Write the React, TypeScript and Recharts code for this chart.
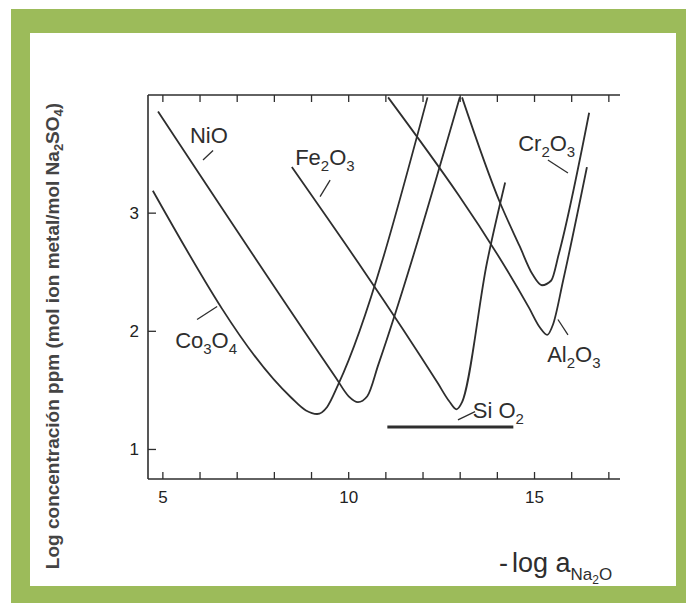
import React from "react"
import { LineChart, Line, XAxis, YAxis, ReferenceLine, ReferenceDot } from "recharts"

// curve points: [-log aNa2O, log concentration]
const CO3O4 = [[4.73, 3.19], [8.45, 1.44], [8.85, 1.33], [9.15, 1.3], [9.42, 1.36], [9.72, 1.55], [12.12, 3.98]]
const NIO = [[4.87, 3.86], [9.65, 1.61], [10.0, 1.45], [10.25, 1.4], [10.5, 1.45], [10.8, 1.72], [12.99, 3.98]]
const FE2O3 = [[8.47, 3.39], [12.4, 1.56], [12.7, 1.41], [12.9, 1.34], [13.05, 1.4], [13.72, 2.58], [14.21, 3.26]]
const CR2O3 = [[13.05, 3.98], [14.07, 3.09], [14.6, 2.72], [14.95, 2.48], [15.2, 2.39], [15.45, 2.43], [15.65, 2.65], [16.47, 3.85]]
const AL2O3 = [[11.06, 3.98], [14.85, 2.2], [15.15, 2.03], [15.34, 1.97], [15.5, 2.06], [15.77, 2.43], [16.41, 3.39]]
const SIO2 = [[11.04, 1.19], [14.43, 1.19]]

const X_TICKS = [5, 6, 7, 8, 9, 10, 11, 12, 13, 14, 15, 16, 17]
const X_LABELED = [5, 10, 15]
const Y_TICKS = [1, 2, 3]

// curve labels: chemical formula pieces (true = subscript), anchor and leader line in data units
const LABELS = [
  { parts: [["NiO", false]], at: [5.73, 3.59], leader: [[6.08, 3.45], [6.35, 3.53]] },
  { parts: [["Fe", false], ["2", true], ["O", false], ["3", true]], at: [8.56, 3.41], leader: [[9.23, 3.14], [9.5, 3.28]] },
  { parts: [["Cr", false], ["2", true], ["O", false], ["3", true]], at: [14.56, 3.53], leader: [[15.36, 3.45], [15.9, 3.34]] },
  { parts: [["Co", false], ["3", true], ["O", false], ["4", true]], at: [5.33, 1.86], leader: [[5.92, 2.1], [6.46, 2.21]] },
  { parts: [["Al", false], ["2", true], ["O", false], ["3", true]], at: [15.34, 1.74], leader: [[15.63, 2.1], [15.9, 1.97]] },
  { parts: [["Si O", false], ["2", true]], at: [13.34, 1.27], leader: [[12.94, 1.25], [13.4, 1.32]] },
] as const

const INK = "#2e2e2e"
const FONT = "'Liberation Sans', Arial, sans-serif"

const toPts = (arr: readonly (readonly number[])[]) => arr.map(([x, y]) => ({ x, y }))

function Formula({ viewBox, parts }: any) {
  const { x, y } = viewBox
  let low = false
  return (
    <text x={x} y={y} fontFamily={FONT} fontSize={22} fill={INK}>
      {parts.map(([t, sub]: [string, boolean], i: number) => {
        const dy = sub && !low ? 6 : !sub && low ? -6 : 0
        low = sub
        return (
          <tspan key={i} dy={dy} fontSize={sub ? 15 : 22}>
            {t}
          </tspan>
        )
      })}
    </text>
  )
}

function BottomTick({ x, y, payload }: any) {
  return (
    <g>
      <line x1={x} y1={y} x2={x} y2={y - 7} stroke={INK} strokeWidth={1.3} />
      {X_LABELED.includes(payload.value) && (
        <text x={x} y={y + 24} textAnchor="middle" fontFamily={FONT} fontSize={17} fill="#222">
          {payload.value}
        </text>
      )}
    </g>
  )
}

function TopTick({ x, y }: any) {
  return <line x1={x} y1={y} x2={x} y2={y + 7} stroke={INK} strokeWidth={1.3} />
}

function LeftTick({ x, y, payload }: any) {
  return (
    <g>
      <line x1={x} y1={y} x2={x + 8} y2={y} stroke={INK} strokeWidth={1.3} />
      <text x={x - 9} y={y + 6} textAnchor="end" fontFamily={FONT} fontSize={17} fill="#222">
        {payload.value}
      </text>
    </g>
  )
}

const curve = (data: readonly (readonly number[])[], key: string, w = 1.8) => (
  <Line
    key={key}
    data={toPts(data)}
    dataKey="y"
    type="monotone"
    stroke={INK}
    strokeWidth={w}
    dot={false}
    isAnimationActive={false}
  />
)

export default function App() {
  return (
    <div style={{ position: "absolute", left: 0, top: 0, width: 686, height: 603, background: "#fff" }}>
      <div style={{ position: "absolute", left: 11, top: 9, width: 675, height: 594, background: "#9cbb5a" }} />
      <div style={{ position: "absolute", left: 30, top: 33, width: 646, height: 553, background: "#fff" }} />
      <div style={{ position: "absolute", left: 0, top: 0 }}>
        <LineChart width={686} height={603} margin={{ top: 94, right: 66, left: 0, bottom: 0 }}>
          <XAxis
            type="number"
            dataKey="x"
            domain={[4.6, 17.3]}
            allowDataOverflow
            ticks={X_TICKS}
            height={124}
            tickSize={0}
            tickMargin={0}
            tickLine={false}
            tick={<BottomTick />}
            axisLine={{ stroke: INK, strokeWidth: 1.6 }}
          />
          <XAxis
            xAxisId="top"
            orientation="top"
            type="number"
            dataKey="x"
            domain={[4.6, 17.3]}
            allowDataOverflow
            ticks={X_TICKS}
            height={1}
            tickSize={0}
            tickMargin={0}
            tickLine={false}
            tick={<TopTick />}
            axisLine={{ stroke: INK, strokeWidth: 1.6 }}
          />
          <YAxis
            type="number"
            domain={[0.75, 4]}
            allowDataOverflow
            ticks={Y_TICKS}
            width={148}
            tickSize={0}
            tickMargin={0}
            tickLine={false}
            tick={<LeftTick />}
            axisLine={{ stroke: INK, strokeWidth: 1.6 }}
          />
          {curve(CO3O4, "co")}
          {curve(NIO, "ni")}
          {curve(FE2O3, "fe")}
          {curve(CR2O3, "cr")}
          {curve(AL2O3, "al")}
          {curve(SIO2, "si", 3.2)}
          {LABELS.map((l, i) => (
            <ReferenceLine
              key={"l" + i}
              segment={l.leader.map(([x, y]) => ({ x, y }))}
              stroke={INK}
              strokeWidth={1.3}
              ifOverflow="visible"
            />
          ))}
          {LABELS.map((l, i) => (
            <ReferenceDot
              key={"d" + i}
              x={l.at[0]}
              y={l.at[1]}
              r={0}
              fill="none"
              stroke="none"
              ifOverflow="visible"
              label={(p: any) => <Formula viewBox={p.viewBox} parts={l.parts} />}
            />
          ))}
        </LineChart>
      </div>
      <svg width={686} height={603} style={{ position: "absolute", left: 0, top: 0, pointerEvents: "none" }}>
        <text
          transform="translate(59,336) rotate(-90)"
          textAnchor="middle"
          fontFamily={FONT}
          fontWeight="bold"
          fontSize={19}
          fill="#444"
        >
          Log concentración ppm (mol ion metal/mol Na
          <tspan dy={4} fontSize={13}>2</tspan>
          <tspan dy={-4}>SO</tspan>
          <tspan dy={4} fontSize={13}>4</tspan>
          <tspan dy={-4}>)</tspan>
        </text>
        <text x={499} y={572} fontFamily={FONT} fontSize={27} fill={INK}>
          -<tspan dx={4}>log a</tspan>
          <tspan dy={8} fontSize={17}>Na</tspan>
          <tspan dy={4} fontSize={12}>2</tspan>
          <tspan dy={-4} fontSize={17}>O</tspan>
        </text>
      </svg>
    </div>
  )
}
